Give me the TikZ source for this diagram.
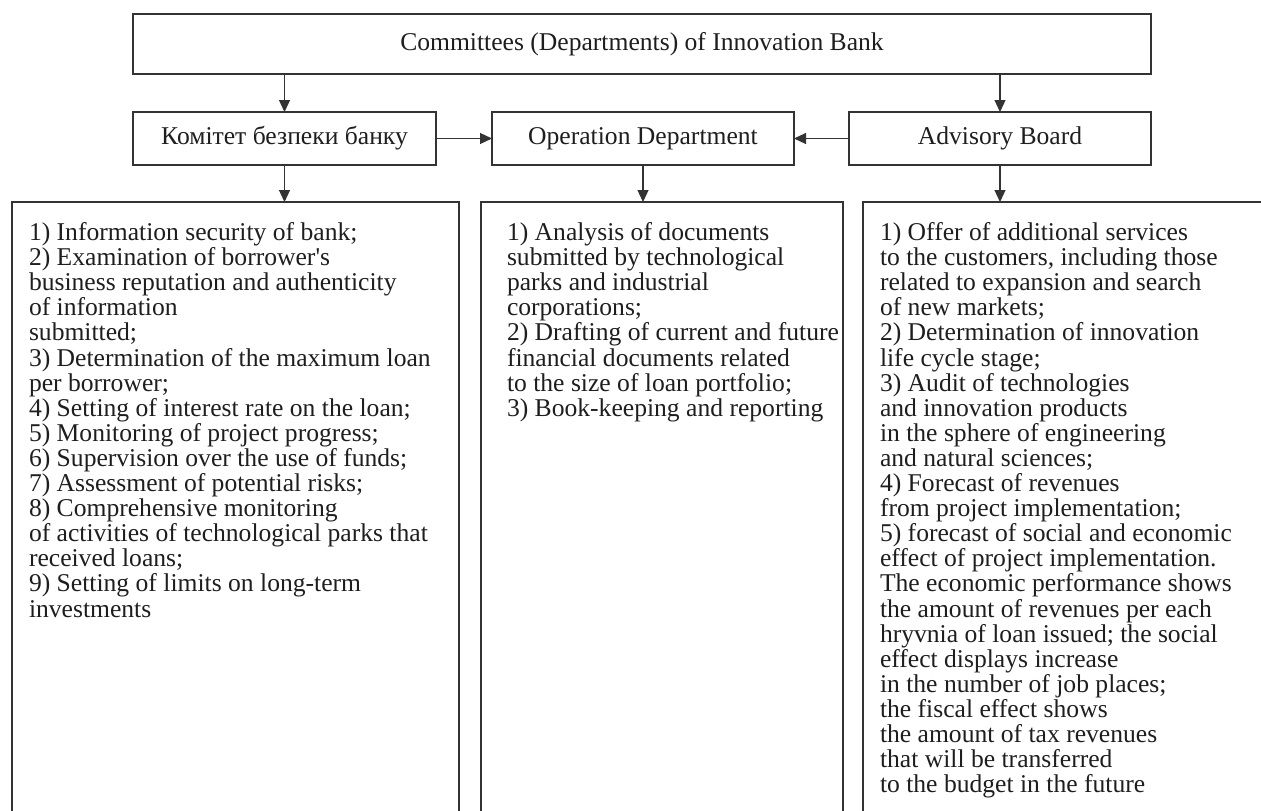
\documentclass[tikz,border=0pt]{standalone}
\usepackage{fontspec}
\setmainfont{Liberation Serif}[Ligatures=TeXOff]
\usetikzlibrary{arrows.meta}
\definecolor{ink}{HTML}{333333}
\definecolor{txtc}{HTML}{1E1E1E}
\tikzset{
  box/.style={draw=ink, line width=1.2pt, rectangle, inner sep=0pt, outer sep=0pt, anchor=north west, text=txtc,
    font={\fontsize{25.6}{25.1}\selectfont}},
  listtxt/.style={inner sep=0pt, outer sep=0pt, anchor=north west, align=left, text=txtc,
    font={\fontsize{25.6}{25.1}\selectfont\lineskiplimit=-50pt}},
  arr/.style={draw=ink, line width=1.2pt, -{Triangle[length=12pt,width=11pt]}}
}
\begin{document}
\begin{tikzpicture}[x=1pt,y=-1pt]
\useasboundingbox (0,0) rectangle (1261,811);
\clip (0,0) rectangle (1261,811);
% top box
\node[box, minimum width=1018pt, minimum height=60pt] (top) at (133,14) {Committees (Departments) of Innovation Bank};
% second row
\node[box, minimum width=303pt, minimum height=53pt] (kom) at (133,112) {Комітет безпеки банку};
\node[box, minimum width=302pt, minimum height=53pt] (op) at (492,112) {Operation Department};
\node[box, minimum width=302pt, minimum height=53pt] (adv) at (849,112) {Advisory Board};
% lower boxes (open at the bottom / right, clipped)
\node[box, minimum width=447pt, minimum height=660pt] (lb) at (12,202) {};
\node[box, minimum width=362pt, minimum height=660pt] (mb) at (481,202) {};
\node[box, minimum width=460pt, minimum height=660pt] (rb) at (863,202) {};
% texts
\node[listtxt] (lt) at (29,222.5) {1) Information security of bank;\\
2) Examination of borrower's\\
business reputation and authenticity\\
of information\\
submitted;\\
3) Determination of the maximum loan\\
per borrower;\\
4) Setting of interest rate on the loan;\\
5) Monitoring of project progress;\\
6) Supervision over the use of funds;\\
7) Assessment of potential risks;\\
8) Comprehensive monitoring\\
of activities of technological parks that\\
received loans;\\
9) Setting of limits on long-term\\
investments};
\node[listtxt] (mt) at (507,222.5) {1) Analysis of documents\\
submitted by technological\\
parks and industrial\\
corporations;\\
2) Drafting of current and future\\
financial documents related\\
to the size of loan portfolio;\\
3) Book-keeping and reporting};
\node[listtxt] (rt) at (880,222.5) {1) Offer of additional services\\
to the customers, including those\\
related to expansion and search\\
of new markets;\\
2) Determination of innovation\\
life cycle stage;\\
3) Audit of technologies\\
and innovation products\\
in the sphere of engineering\\
and natural sciences;\\
4) Forecast of revenues\\
from project implementation;\\
5) forecast of social and economic\\
effect of project implementation.\\
The economic performance shows\\
the amount of revenues per each\\
hryvnia of loan issued; the social\\
effect displays increase\\
in the number of job places;\\
the fiscal effect shows\\
the amount of tax revenues\\
that will be transferred\\
to the budget in the future};
% connectors
\draw[arr] (kom.north |- top.south) -- (kom.north);
\draw[arr] (adv.north |- top.south) -- (adv.north);
\draw[arr] (kom.east) -- (op.west);
\draw[arr] (adv.west) -- (op.east);
\draw[arr] (kom.south) -- (kom.south |- lb.north);
\draw[arr] (op.south) -- (op.south |- mb.north);
\draw[arr] (adv.south) -- (adv.south |- rb.north);
\end{tikzpicture}
\end{document}
